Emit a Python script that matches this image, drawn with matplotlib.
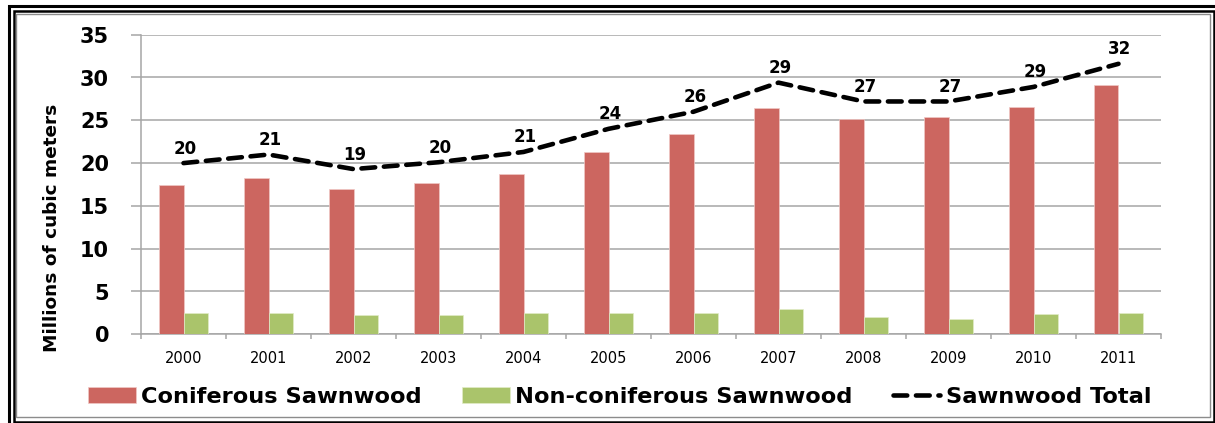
import numpy as np
import matplotlib
matplotlib.use("Agg")
import matplotlib.pyplot as plt
from matplotlib.patches import Rectangle

# data (millions of cubic meters)
years = ['2000', '2001', '2002', '2003', '2004', '2005',
         '2006', '2007', '2008', '2009', '2010', '2011']
coniferous = [17.4, 18.3, 17.0, 17.7, 18.7, 21.3, 23.4, 26.4, 25.2, 25.4, 26.5, 29.1]
non_coniferous = [2.5, 2.5, 2.2, 2.3, 2.5, 2.5, 2.5, 2.9, 2.0, 1.8, 2.4, 2.5]
total = [20.0, 21.0, 19.3, 20.1, 21.3, 24.0, 26.0, 29.4, 27.2, 27.2, 28.9, 31.6]

W, H = 1215, 423
red = '#CC6660'
green = '#AAC46B'
grid_c = '#a6a6a6'

fig = plt.figure(figsize=(W / 100, H / 100), dpi=100)
ax = fig.add_axes([141 / W, 1 - 334.3 / H, 1020 / W, 299.6 / H])

x = np.arange(len(years))
w = 0.29
b1 = ax.bar(x - w / 2, coniferous, w, color=red, edgecolor='#f0c8c5', linewidth=0.5,
            zorder=3, label='Coniferous Sawnwood')
b2 = ax.bar(x + w / 2, non_coniferous, w, color=green, edgecolor='#e2ecc8', linewidth=0.5,
            zorder=3, label='Non-coniferous Sawnwood')
l1, = ax.plot(x, total, color='black', lw=3.3, dashes=(3.0, 1.9), dash_capstyle='round',
              zorder=4, label='Sawnwood Total')

for xi, t in zip(x, total):
    ax.annotate(str(int(round(t))), (xi, t), xytext=(1, 10.5), textcoords='offset points',
                ha='center', va='center', fontsize=12, fontweight='bold', zorder=5)

ax.set_xlim(-0.5, len(years) - 0.5)
ax.set_ylim(0, 35)
ax.set_yticks(range(0, 36, 5))
ax.set_xticks(x)
ax.set_xticklabels(years)
ax.set_xticks(np.arange(-0.5, len(years)), minor=True)

ax.tick_params(axis='y', length=7, width=1.1, color=grid_c, pad=16,
               labelsize=15)
for lab in ax.get_yticklabels():
    lab.set_fontweight('bold')
ax.tick_params(axis='x', which='major', length=0, pad=12, labelsize=10.5)
ax.tick_params(axis='x', which='minor', length=3.5, width=1.1, color=grid_c)

ax.yaxis.grid(True, color=grid_c, lw=1.1, zorder=0)
ax.set_axisbelow(True)
for s in ['top', 'right']:
    ax.spines[s].set_visible(False)
for s in ['left', 'bottom']:
    ax.spines[s].set_color(grid_c)
    ax.spines[s].set_linewidth(1.1)

fig.text(52 / W, 1 - 227.5 / H, 'Millions of cubic meters', rotation=90,
         ha='center', va='center', fontsize=13.3, fontweight='bold')

fig.legend([b1, b2, l1], [b1.get_label(), b2.get_label(), l1.get_label()],
           loc='center', bbox_to_anchor=(620 / W, 1 - 397 / H), ncol=3,
           frameon=False, prop={'size': 16.2, 'weight': 'bold'},
           handlelength=2.1, handleheight=0.7, handletextpad=0.25,
           columnspacing=1.8)

# double border around the chart
def frame(x0, y0, x1, y1, lw, color):
    fig.add_artist(Rectangle((x0 / W, 1 - y1 / H), (x1 - x0) / W, (y1 - y0) / H,
                             transform=fig.transFigure, fill=False, lw=lw,
                             edgecolor=color, clip_on=False))

frame(8.5, 6.3, 1225, 435, 2.2, 'black')
frame(13.7, 11.3, 1214, 421.5, 1.8, 'black')
frame(16, 14, 1210, 417, 1.0, '#8c8c8c')

fig.savefig('out.png', dpi=100)
